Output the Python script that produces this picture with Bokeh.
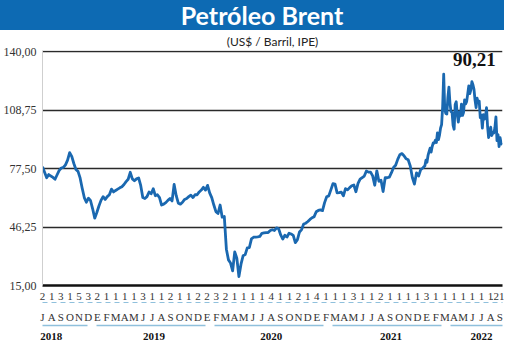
import pandas as pd
from bokeh.plotting import figure
from bokeh.models import Range1d, LinearAxis, FixedTicker, Label, Div, Title, ColumnDataSource
from bokeh.layouts import column
from bokeh.embed import file_html
from bokeh.resources import INLINE

TITLE = "Petróleo Brent"
SUBTITLE = "(US$ / Barril, IPE)"
Y_TICKS = [15.0, 46.25, 77.5, 108.75, 140.0]
Y_TICK_LABELS = ["15,00", "46,25", "77,50", "108,75", "140,00"]
MONTH_LETTERS = (list("JASOND") + list("EFMAMJJASOND") + list("EFMAMJJASOND")
                 + list("EFMAMJJASOND") + list("EFMAMJJAS"))
MONTH_DAYS = ["2", "1", "3", "1", "5", "3",
              "2", "1", "1", "1", "1", "3", "1", "1", "2", "1", "1", "2",
              "2", "3", "2", "1", "1", "1", "1", "4", "1", "1", "2", "1",
              "4", "1", "1", "1", "3", "1", "1", "2", "1", "1", "1", "1",
              "3", "1", "1", "1", "1", "1", "1", "1", ".21"]
YEARS = ["2018", "2019", "2020", "2021", "2022"]
YEAR_TICKS = [0.97, 12.2, 25.0, 38.1, 48.0]
LAST_LABEL = "90,21"

# Brent closes (US$/barrel): weekly 2018-2021, twice weekly 2022
BRENT_2018 = [78.5, 75.5, 72.6, 74.3, 73.5, 72.8, 71.8, 74.2, 76.5, 77.8, 78.1, 79.5, 82.0,
              86.0, 84.0, 80.2, 77.0, 76.0, 72.5, 67.0, 62.0, 59.5, 61.7, 60.3, 56.0, 51.0, 54.0]
BRENT_2019 = [57.5, 60.5, 62.5, 61.0, 62.5, 63.5, 66.5, 65.0, 65.8, 66.5, 67.2, 67.8,
              69.0, 70.5, 71.8, 75.5, 72.0, 71.0, 72.0, 72.5, 68.5, 62.0, 61.5, 62.5, 65.0,
              64.0, 66.7, 63.0, 63.5, 62.0, 58.0, 58.5, 59.3, 60.5, 61.5, 60.2, 69.0, 63.0,
              59.0, 58.5, 59.5, 61.0, 61.5, 62.5, 63.3, 62.0, 63.5, 63.5, 65.0, 66.0, 67.5, 66.0]
BRENT_2020 = [68.5, 64.5, 62.0, 58.0, 54.5, 53.5, 58.0, 51.5, 51.9, 34.4, 28.7, 27.0, 22.8,
              33.0, 29.6, 19.8, 26.4, 30.9, 31.5, 35.1, 35.3, 39.9, 40.8, 40.9, 41.0, 41.2,
              42.9, 43.1, 43.3, 43.3, 44.4, 44.8, 44.4, 45.8, 45.3, 42.0, 39.8, 41.9, 40.9,
              42.9, 42.5, 41.8, 37.9, 39.5, 43.6, 44.9, 47.9, 48.3, 49.2, 50.3, 51.2, 51.8]
BRENT_2021 = [54.4, 55.1, 55.4, 55.0, 59.3, 62.4, 62.9, 66.1, 69.4, 69.2, 64.5, 64.6, 64.9,
              62.9, 66.8, 66.1, 67.3, 68.3, 68.7, 65.1, 69.6, 71.9, 72.7, 73.5, 76.2, 75.6,
              75.6, 73.6, 68.6, 76.3, 70.7, 71.3, 65.2, 72.6, 72.6, 72.9, 75.3, 78.1, 79.3,
              82.4, 84.9, 85.5, 84.4, 82.7, 82.2, 78.9, 72.7, 69.2, 75.2, 73.5, 76.9, 77.8]
BRENT_2022 = [79.0, 82.0, 80.9, 84.5, 86.5, 88.4, 86.3, 89.3, 91.2,
              91.1, 92.7, 91.4, 96.5, 93.0, 95.4, 99.1, 101.0,
              110.5, 127.9, 109.3, 106.9, 106.6, 115.6, 121.0, 112.5, 107.9,
              107.5, 100.6, 98.5, 111.7, 113.2, 106.3, 102.3, 107.6,
              105.6, 111.9, 105.9, 107.5, 114.2, 112.0, 113.4, 117.4, 121.7,
              117.6, 119.5, 123.9, 122.3, 119.8, 114.1, 110.1, 115.1, 112.8,
              113.5, 104.7, 106.1, 99.1, 106.3, 103.9, 105.2, 110.0,
              100.0, 94.1, 96.7, 99.6, 95.1, 96.6, 96.5, 99.3, 105.1,
              92.4, 95.7, 89.2, 94.0, 90.8, 90.21]
YEAR_STARTS = ["2018-07-02", "2019-01-07", "2020-01-06", "2021-01-04", "2022-01-03"]
YEAR_STEPS = ["7D", "7D", "7D", "7D", "84h"]

series = [BRENT_2018, BRENT_2019, BRENT_2020, BRENT_2021, BRENT_2022]
dates, prices = [], []
for start, step, vals in zip(YEAR_STARTS, YEAR_STEPS, series):
    dates.extend(pd.date_range(start, periods=len(vals), freq=step))
    prices.extend(vals)
src = ColumnDataSource(data=dict(date=dates, price=prices))

BLUE = "#1a68b0"
LIGHT = "#8fc0dc"
AX_FONT = "Liberation Sans Narrow"

p = figure(width=504, height=312, output_backend="svg", toolbar_location=None,
           x_axis_type="datetime", x_axis_location=None,
           x_range=Range1d(pd.Timestamp("2018-07-02"), pd.Timestamp("2022-09-20")),
           y_range=Range1d(15, 140.6),
           min_border_left=37, min_border_right=2, min_border_top=16, min_border_bottom=0)
p.extra_x_ranges = {"months": Range1d(0, 50.3)}
p.outline_line_color = None
p.background_fill_color = "white"
p.border_fill_color = "white"

p.title = Title(text=SUBTITLE, align="center", standoff=3,
                text_font="Lato", text_font_size="12px", text_font_style="normal",
                text_color="#222222")

# y axis
ya = p.yaxis[0]
ya.ticker = FixedTicker(ticks=Y_TICKS)
ya.major_label_overrides = dict(zip(Y_TICKS, Y_TICK_LABELS))
ya.axis_line_color = "#cfcfcf"
ya.major_tick_line_color = None
ya.minor_tick_line_color = None
ya.major_tick_out = 0
ya.minor_tick_out = 0
ya.major_label_standoff = 6
ya.major_label_text_font = AX_FONT
ya.major_label_text_font_size = "12px"
ya.major_label_text_color = "#333333"

p.ygrid.ticker = FixedTicker(ticks=Y_TICKS)
p.ygrid.grid_line_color = "#2a2a2a"
p.ygrid.grid_line_width = 1.6
p.xgrid.visible = False

def month_axis(ticks, labels, standoff):
    ax = LinearAxis(x_range_name="months", ticker=FixedTicker(ticks=ticks),
                    major_label_overrides=dict(zip(ticks, labels)))
    ax.major_tick_line_color = None
    ax.minor_tick_line_color = None
    ax.major_tick_out = 0
    ax.minor_tick_out = 0
    ax.major_label_standoff = standoff
    ax.major_label_text_font = AX_FONT
    ax.major_label_text_font_size = "11px"
    ax.major_label_text_color = "#333333"
    return ax

ax_num = month_axis(list(range(len(MONTH_DAYS))), MONTH_DAYS, 7)
ax_num.axis_line_color = "#111111"
ax_num.axis_line_width = 2.5
p.add_layout(ax_num, "below")

ax_mon = month_axis(list(range(len(MONTH_LETTERS))), MONTH_LETTERS, 8)
ax_mon.axis_line_color = LIGHT
ax_mon.axis_line_width = 1.2
ax_mon.axis_line_dash = "5 4"
p.add_layout(ax_mon, "below")

ax_year = month_axis(YEAR_TICKS, YEARS, 7)
ax_year.axis_line_color = LIGHT
ax_year.axis_line_width = 1.5
ax_year.axis_line_dash = "109 9"
ax_year.axis_line_dash_offset = 64
ax_year.major_label_text_font_style = "bold"
ax_year.major_label_text_color = "#111111"
p.add_layout(ax_year, "below")

p.line(x="date", y="price", source=src, line_color=BLUE, line_width=2.8, line_join="round")

p.add_layout(Label(x=pd.Timestamp("2022-06-18").value / 1e6, y=135.6, text=LAST_LABEL,
                   text_align="center", text_baseline="middle",
                   text_font="Liberation Serif", text_font_style="bold",
                   text_font_size="19px", text_color="#111111"))

title_div = Div(text=('<div style="width:504px;height:30px;background:#0d6ab3;color:white;'
                      'font-family:Lato;font-weight:bold;font-size:25px;'
                      'line-height:30px;text-align:center;padding-left:20px;box-sizing:border-box;">'
                      + TITLE + '</div>'),
                width=504, height=30, margin=0)

layout = column(title_div, p, spacing=0)
open("out.html", "w").write(file_html(layout, INLINE))
